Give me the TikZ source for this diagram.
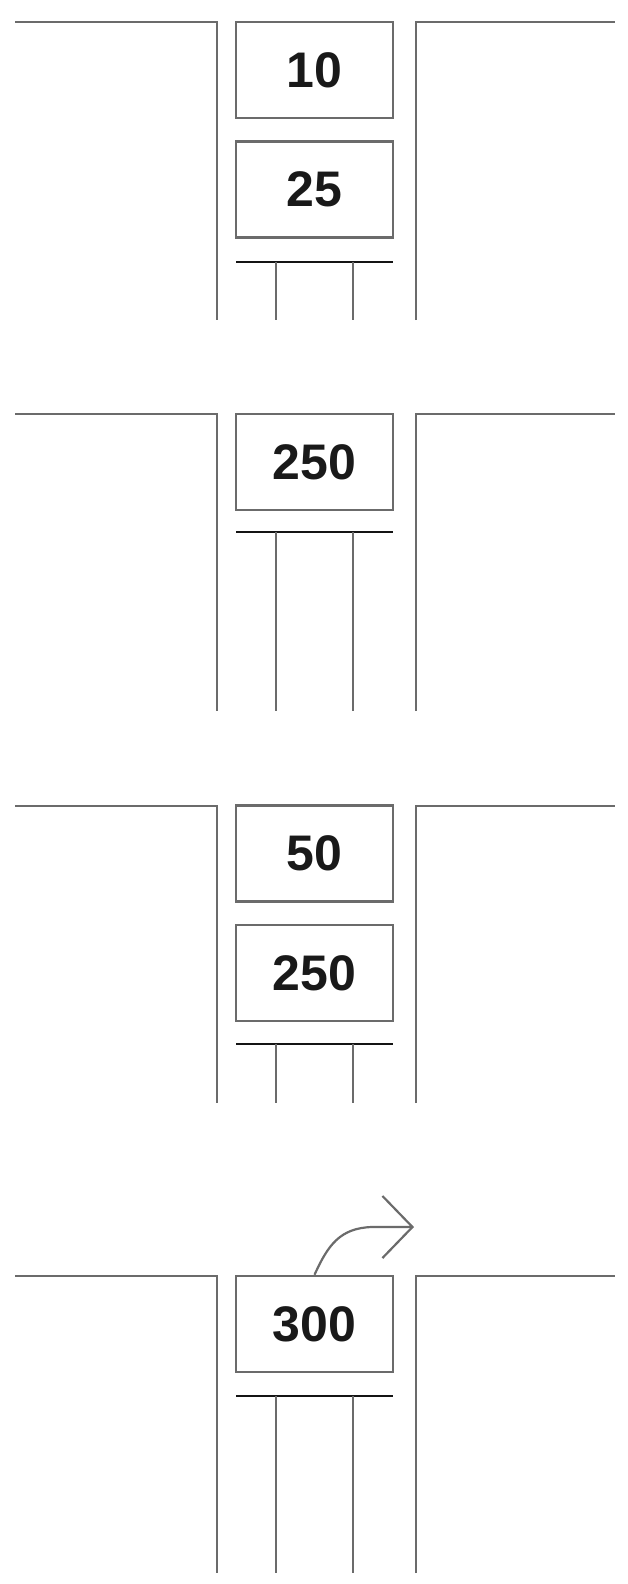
\documentclass[tikz,border=0pt]{standalone}
\usepackage{fontspec}
\setmainfont{Liberation Sans}
\usetikzlibrary{arrows.meta}
\definecolor{linegray}{gray}{0.42}
\definecolor{bargray}{gray}{0.08}
\tikzset{
  wall/.style={draw=linegray, line width=2.4pt},
  bar/.style={draw=bargray, line width=2.8pt},
  coin/.style={draw=linegray, line width=2.4pt, rectangle, minimum width=157pt, minimum height=96pt, inner sep=0pt, font=\fontsize{50}{54}\selectfont\bfseries, text=black!90},
}
\newcommand{\panel}[3]{% top, bar, bottom
  \draw[wall] (15,#1) -- (217,#1) -- (217,#3);
  \draw[wall] (416,#3) -- (416,#1) -- (615,#1);
  \draw[bar] (236,#2) -- (393,#2);
  \draw[wall] (276,#2) -- (276,#3);
  \draw[wall] (353,#2) -- (353,#3);
}
\begin{document}
\begin{tikzpicture}[x=1pt,y=-1pt]
\useasboundingbox (0,0) rectangle (627,1584);
% panel 1
\panel{22}{262}{320}
\node[coin] (b1) at (314.5,70) {10};
\node[coin] (b2) at (314.5,189.5) {25};
% panel 2
\panel{414}{532}{711}
\node[coin] (b3) at (314.5,462) {250};
% panel 3
\panel{806}{1044}{1103}
\node[coin] (b4) at (314.5,853.5) {50};
\node[coin] (b5) at (314.5,973) {250};
% panel 4
\panel{1276}{1396}{1573}
\node[coin] (b6) at (314.5,1324) {300};
\coordinate (tip) at (414,1227);
\draw[draw=linegray, line width=2.2pt, -{Straight Barb[length=30pt,width=62pt,line width=2.2pt]}]
  (b6.north) .. controls (328,1245) and (340,1228) .. (372,1227) -- (tip);
\end{tikzpicture}
\end{document}
